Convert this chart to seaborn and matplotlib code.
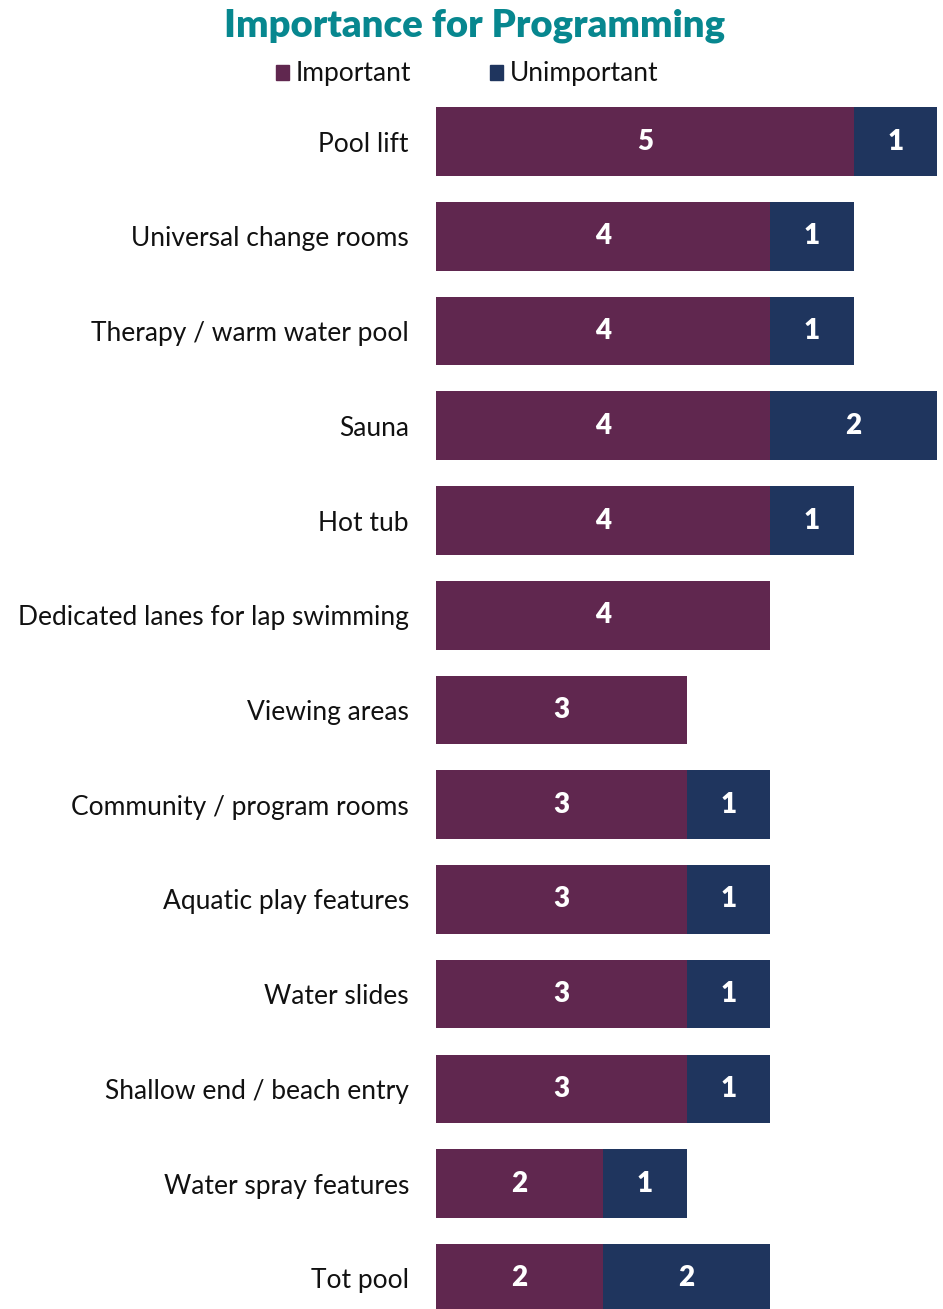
import matplotlib
matplotlib.use("Agg")
import matplotlib.pyplot as plt
from matplotlib.patches import Patch
import pandas as pd
import seaborn as sns

# data
categories = ["Pool lift", "Universal change rooms", "Therapy / warm water pool",
              "Sauna", "Hot tub", "Dedicated lanes for lap swimming", "Viewing areas",
              "Community / program rooms", "Aquatic play features", "Water slides",
              "Shallow end / beach entry", "Water spray features", "Tot pool"]
important = [5, 4, 4, 4, 4, 4, 3, 3, 3, 3, 3, 2, 2]
unimportant = [1, 1, 1, 2, 1, 0, 0, 1, 1, 1, 1, 1, 2]

purple = "#60274F"
navy = "#1F355E"
teal = "#07878F"

sns.set_theme(style="white")
plt.rcParams["font.family"] = ["Lato", "DejaVu Sans"]

df = pd.DataFrame({"category": categories, "important": important,
                   "unimportant": unimportant})
df["total"] = df["important"] + df["unimportant"]

fig = plt.figure(figsize=(9.43, 13.09), dpi=100)
ax = fig.add_axes([436 / 943, 0, 507 / 943, 1209 / 1309])

# stacked: draw totals in navy, then the important part over it
sns.barplot(data=df, x="total", y="category", color=navy, width=0.725,
            saturation=1, orient="h", linewidth=0, ax=ax)
sns.barplot(data=df, x="important", y="category", color=purple, width=0.725,
            saturation=1, orient="h", linewidth=0, ax=ax)

for i, (imp, unimp) in enumerate(zip(important, unimportant)):
    ax.text(imp / 2, i, str(imp), ha="center", va="center", color="white",
            fontsize=20, fontweight="heavy")
    if unimp > 0:
        ax.text(imp + unimp / 2, i, str(unimp), ha="center", va="center",
                color="white", fontsize=20, fontweight="heavy")

ax.set_xlim(0, 507 / 83.5)
ax.set_ylim(12.324, -0.4397)
ax.set_xlabel("")
ax.set_ylabel("")
ax.set_xticks([])
ax.tick_params(axis="y", length=0, pad=19.5, labelsize=19, labelcolor="#111111")
sns.despine(ax=ax, left=True, bottom=True)

fig.text(475 / 943, 1 - 26 / 1309, "Importance for Programming", ha="center",
         va="center", color=teal, fontsize=27.5, fontweight="heavy")

handles = [Patch(color=purple, label="Important"), Patch(color=navy, label="Unimportant")]
fig.legend(handles=handles, loc="center", bbox_to_anchor=(467 / 943, 1 - 74 / 1309),
           ncol=2, frameon=False, fontsize=19, handlelength=0.5, handleheight=0.5,
           handletextpad=0.25, columnspacing=3.0, labelcolor="#111111")

fig.savefig("out.png", dpi=100)
